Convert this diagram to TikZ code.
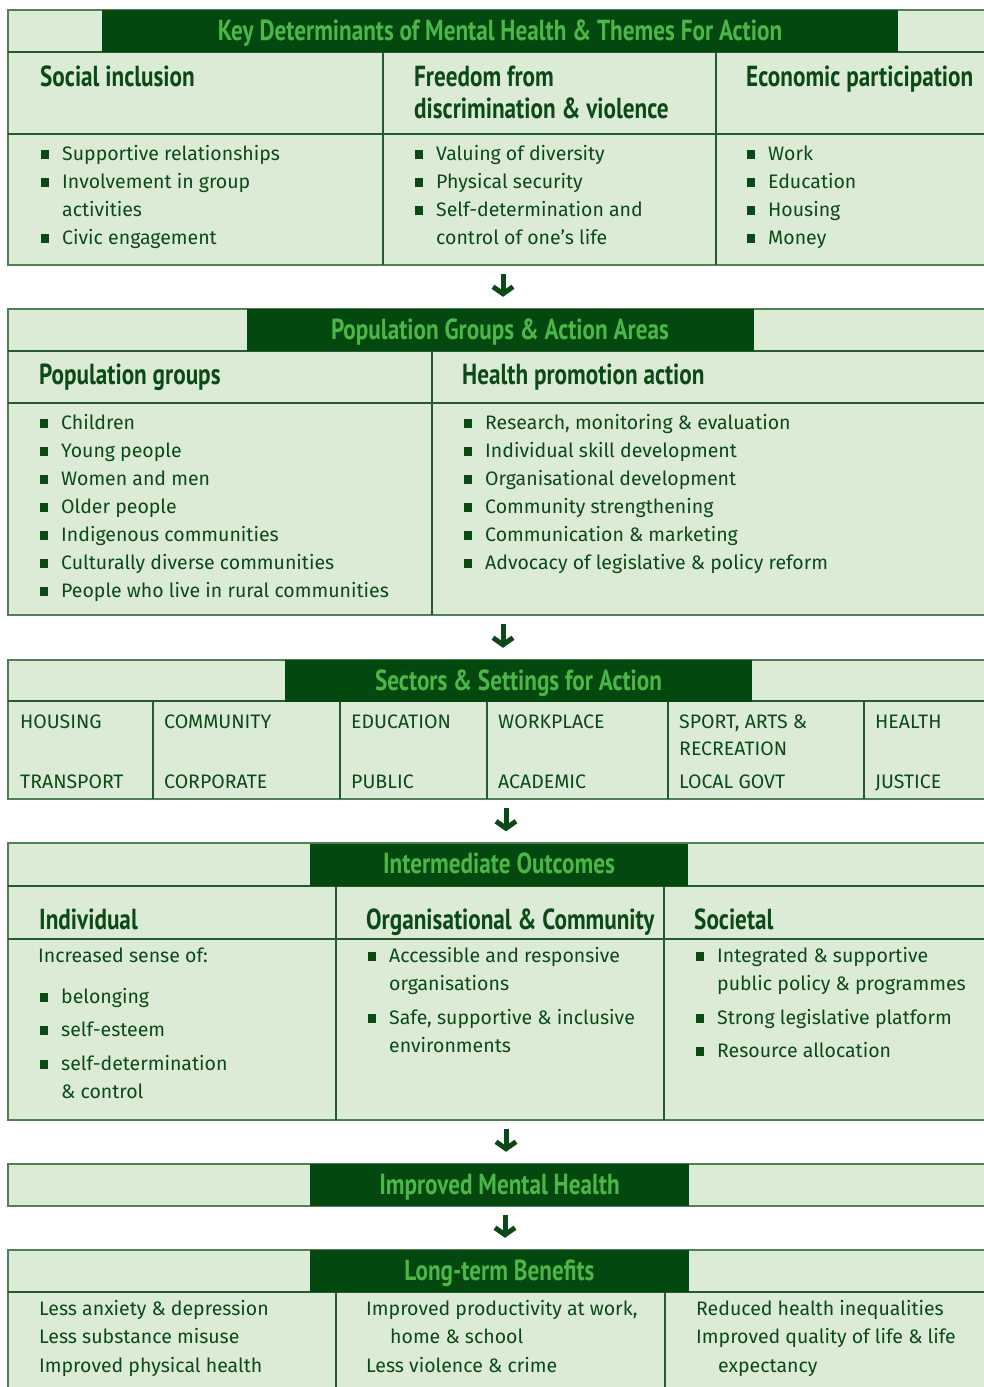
\documentclass[tikz,border=0pt]{standalone}
\usepackage{fontspec}
\setmainfont{Fira Sans}
\newfontfamily\headfont[FakeStretch=0.8]{PT Sans}
\usetikzlibrary{arrows.meta}
\definecolor{lightfill}{HTML}{DCEBD6}
\definecolor{darkband}{HTML}{03490F}
\definecolor{bandtext}{HTML}{4CB748}
\definecolor{inktext}{HTML}{0B4A17}
\definecolor{frameline}{HTML}{4F8155}
\definecolor{gridline}{HTML}{245A2C}
\tikzset{
  sectbox/.style={draw=frameline, line width=1.4pt, fill=lightfill},
  divider/.style={draw=gridline, line width=1.4pt},
  band/.style={fill=darkband, text=bandtext, inner sep=0pt, minimum height=42pt, text height=20pt, text depth=2pt, font=\headfont\bfseries\fontsize{29}{29}\selectfont},
  subhead/.style={anchor=base west, inner sep=0pt, text=inktext, font=\headfont\bfseries\fontsize{29}{29}\selectfont},
  entry/.style={anchor=base west, inner sep=0pt, text=inktext, font=\fontsize{19.5}{22}\selectfont},
  bulletbox/.style={fill=inktext, minimum size=8.5pt, inner sep=0pt},
  flowarrow/.style={draw=inktext, line width=5pt, shorten <=9pt, shorten >=12pt, -{Straight Barb[length=7pt,width=20pt]}},
}
\begin{document}
\begin{tikzpicture}[x=1pt, y=-1pt]
    \useasboundingbox (0,0) rectangle (984,1387);
    \clip (0,0) rectangle (984,1387);
    \def\bx{17}   % bullet sits this far left of its text
    \def\by{5.5}  % and this far above the baseline

    % Key determinants
    \draw[sectbox] (8,10) rectangle (995,265);
    \draw[divider] (8,52) -- (995,52) (8,134) -- (995,134) (383,52) -- (383,265) (716,52) -- (716,265);
    \node[band, minimum width=796pt] (hdA) at (500,31) {Key Determinants of Mental Health \& Themes For Action};
    \node[subhead] (shA1) at (40,86) {Social inclusion};
    \node[subhead] (shA2) at (414,86) {Freedom from};
    \node[subhead] (shA3) at (414,118) {discrimination \& violence};
    \node[subhead] (shA4) at (746,86) {Economic participation};
    \foreach \x/\y/\b/\txt [count=\k] in {
        62/160/1/Supportive relationships, 62/188/1/Involvement in group, 62/216/0/activities, 62/244/1/Civic engagement,
        436/160/1/Valuing of diversity, 436/188/1/Physical security, 436/216/1/Self-determination and, 436/244/0/control of one’s life,
        768/160/1/Work, 768/188/1/Education, 768/216/1/Housing, 768/244/1/Money} {
        \node[entry] (tA\k) at (\x,\y) {\txt};
        \ifnum\b=1 \node[bulletbox] (bA\k) at (\x-\bx,\y-\by) {}; \fi
    }
    \coordinate (endA) at (503,265);

    % Population groups
    \draw[sectbox] (8,309) rectangle (995,615);
    \draw[divider] (8,351) -- (995,351) (8,403) -- (995,403) (432,351) -- (432,615);
    \node[band, minimum width=507pt] (hdB) at (500,330) {Population Groups \& Action Areas};
    \node[subhead] (shB1) at (39,384) {Population groups};
    \node[subhead] (shB2) at (462,384) {Health promotion action};
    \foreach \x/\y/\txt [count=\k] in {
        61/429/Children, 61/457/Young people, 61/485/Women and men, 61/513/Older people,
        61/541/Indigenous communities, 61/569/Culturally diverse communities, 61/597/People who live in rural communities,
        485/429/{Research, monitoring \& evaluation}, 485/457/Individual skill development, 485/485/Organisational development,
        485/513/Community strengthening, 485/541/Communication \& marketing, 485/569/Advocacy of legislative \& policy reform} {
        \node[entry] (tB\k) at (\x,\y) {\txt};
        \node[bulletbox] (bB\k) at (\x-\bx,\y-\by) {};
    }
    \coordinate (endB) at (503,615);

    % Sectors and settings
    \draw[sectbox] (8,660) rectangle (995,799);
    \draw[divider] (8,701) -- (995,701);
    \foreach \x in {153,340,487,668,864} {
        \draw[divider] (\x,701) -- (\x,799);
    }
    \node[band, minimum width=467pt] (hdC) at (518.5,681) {Sectors \& Settings for Action};
    \foreach \x/\y/\txt [count=\k] in {
        20/728/HOUSING, 20/788/TRANSPORT, 164/728/COMMUNITY, 164/788/CORPORATE,
        351/728/EDUCATION, 351/788/PUBLIC, 498/728/WORKPLACE, 498/788/ACADEMIC,
        679/728/{SPORT, ARTS \&}, 679/755/RECREATION, 679/788/LOCAL GOVT,
        875/728/HEALTH, 875/788/JUSTICE} {
        \node[entry] (tC\k) at (\x,\y) {\txt};
    }
    \coordinate (endC) at (506,799);

    % Intermediate outcomes
    \draw[sectbox] (8,843) rectangle (995,1120);
    \draw[divider] (8,886) -- (995,886) (8,939) -- (995,939) (336,886) -- (336,1120) (664,886) -- (664,1120);
    \node[band, minimum width=378pt] (hdD) at (499,864.5) {Intermediate Outcomes};
    \node[subhead] (shD1) at (39,929) {Individual};
    \node[subhead] (shD2) at (366,929) {Organisational \& Community};
    \node[subhead] (shD3) at (694,929) {Societal};
    \foreach \x/\y/\b/\txt [count=\k] in {
        38/962/0/Increased sense of:, 61/1003/1/belonging, 61/1036/1/self-esteem, 61/1070/1/self-determination, 61/1098/0/\& control,
        389/962/1/Accessible and responsive, 389/990/0/organisations, 389/1024/1/{Safe, supportive \& inclusive}, 389/1052/0/environments,
        717/962/1/Integrated \& supportive, 717/990/0/public policy \& programmes, 717/1024/1/Strong legislative platform, 717/1057/1/Resource allocation} {
        \node[entry] (tD\k) at (\x,\y) {\txt};
        \ifnum\b=1 \node[bulletbox] (bD\k) at (\x-\bx,\y-\by) {}; \fi
    }
    \coordinate (endD) at (506,1120);

    % Improved mental health
    \draw[sectbox] (8,1164) rectangle (995,1206);
    \node[band, minimum width=379pt] (hdE) at (499.5,1185) {Improved Mental Health};
    \coordinate (endE) at (505,1206);

    % Long-term benefits
    \draw[sectbox] (8,1250) rectangle (995,1400);
    \draw[divider] (8,1292) -- (995,1292) (336,1292) -- (336,1400) (665,1292) -- (665,1400);
    \node[band, minimum width=379pt] (hdF) at (499.5,1271) {Long-term Benefits};
    \foreach \x/\y/\txt [count=\k] in {
        39/1315/Less anxiety \& depression, 39/1343/Less substance misuse, 39/1372/Improved physical health,
        366/1315/{Improved productivity at work,}, 390/1343/home \& school, 366/1372/Less violence \& crime,
        696/1315/Reduced health inequalities, 696/1343/Improved quality of life \& life, 718/1372/expectancy} {
        \node[entry] (tF\k) at (\x,\y) {\txt};
    }

    % Draw the arrows between the blocks
    \draw[flowarrow] (endA) -- (hdB.north -| endA);
    \draw[flowarrow] (endB) -- (hdC.north -| endB);
    \draw[flowarrow] (endC) -- (hdD.north -| endC);
    \draw[flowarrow] (endD) -- (hdE.north -| endD);
    \draw[flowarrow] (endE) -- (hdF.north -| endE);
\end{tikzpicture}
\end{document}
